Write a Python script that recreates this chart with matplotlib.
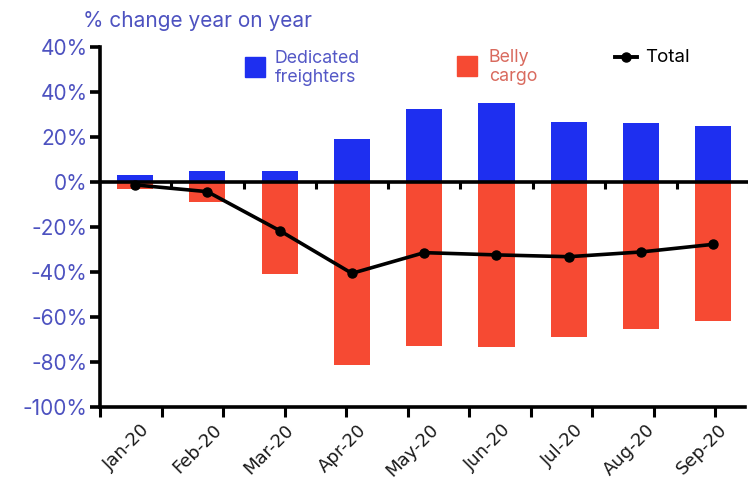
import numpy as np
import matplotlib
matplotlib.use("Agg")
import matplotlib.pyplot as plt
from matplotlib.patches import Rectangle
from matplotlib.lines import Line2D
from matplotlib import transforms

# Monthly year-on-year change in air cargo capacity (%)
months = ["Jan-20", "Feb-20", "Mar-20", "Apr-20", "May-20", "Jun-20", "Jul-20", "Aug-20", "Sep-20"]
dedicated_freighters = [3.1, 4.9, 4.9, 19.3, 32.4, 35.3, 26.8, 26.4, 24.7]
belly_cargo = [-3.2, -9.0, -40.8, -81.3, -72.7, -73.2, -68.7, -65.5, -61.8]
total = [-1.3, -4.3, -21.6, -40.6, -31.4, -32.4, -33.2, -31.1, -27.7]

y_tick_values = [-100, -80, -60, -40, -20, 0, 20, 40, 60]
y_tick_labels = ["-100%", "-80%", "-60%", "-40%", "-20%", "0%", "20%", "40%", "40%"]

BLUE = "#1e2ff0"
RED = "#f64a33"
AXIS_TEXT = "#4d52c0"

fig = plt.figure(figsize=(7.51, 4.79), dpi=100)
ax = fig.add_axes([0.1332, 0.1503, 0.8628, 0.7516])

x = np.arange(len(months))
ax.bar(x, dedicated_freighters, width=0.5, color=BLUE, zorder=2)
ax.bar(x, belly_cargo, width=0.5, color=RED, zorder=2)
ax.plot(x, total, color="black", lw=2.6, marker="o", markersize=6.5, zorder=4)

xmin, xmax = -0.485, 8.48
ax.set_xlim(xmin, xmax)
ax.set_ylim(-100, 60)

# axis frame: left spine and bottom spine only
for side in ("top", "right"):
    ax.spines[side].set_visible(False)
for side in ("left", "bottom"):
    ax.spines[side].set_linewidth(2.6)
    ax.spines[side].set_color("black")
ax.spines["bottom"].set_bounds(xmin, 8.44)

# y axis
ax.set_yticks(y_tick_values)
ax.set_yticklabels(y_tick_labels, fontsize=15, color=AXIS_TEXT, family=["Inter", "DejaVu Sans"])
ax.tick_params(axis="y", direction="out", length=7, width=2.6, pad=2)

# bottom axis tick marks
ax.set_xticks(np.linspace(xmin, 8.03, 11))
ax.set_xticklabels([])
ax.tick_params(axis="x", direction="out", length=7, width=2.2)

# month labels
label_tf = transforms.blended_transform_factory(ax.transData, ax.transAxes) + \
    transforms.ScaledTranslation(0, -14 / 100, fig.dpi_scale_trans)
for xi, m in zip(x, months):
    ax.text(xi + 0.07, 0, m, transform=label_tf, rotation=45, ha="right", va="top",
            rotation_mode="anchor", fontsize=13, color="#1a1a1a",
            family=["DejaVu Sans"])

# zero line with category separators
ax.axhline(0, color="black", lw=2.6, zorder=3)
for xs in np.arange(0.5, len(months), 1.0):
    ax.plot([xs, xs], [0, -3.2], color="black", lw=2.2, zorder=3, solid_capstyle="butt")

# title above the axis
fig.text(83 / 751, 1 - 21 / 479, "% change year on year", fontsize=15, color=AXIS_TEXT,
         family=["Inter", "DejaVu Sans"], ha="left", va="center")

# legend
W, H = 751, 479
fig.patches.append(Rectangle((245 / W, 1 - 77 / H), 20 / W, 20 / H, color=BLUE,
                             transform=fig.transFigure, figure=fig))
fig.text(275 / W, 1 - 68 / H, "Dedicated\nfreighters", fontsize=12.8, color="#5357c6",
         family=["Inter", "DejaVu Sans"], ha="left", va="center", linespacing=1.2)
fig.patches.append(Rectangle((457 / W, 1 - 76 / H), 20 / W, 20 / H, color=RED,
                             transform=fig.transFigure, figure=fig))
fig.text(489 / W, 1 - 67 / H, "Belly\ncargo", fontsize=12.8, color="#d96a5e",
         family=["Inter", "DejaVu Sans"], ha="left", va="center", linespacing=1.2)
fig.lines.append(Line2D([615 / W, 637 / W], [1 - 57 / H, 1 - 57 / H], color="black", lw=2.8,
                        transform=fig.transFigure, figure=fig))
fig.lines.append(Line2D([626 / W], [1 - 57 / H], color="black", marker="o", markersize=6.5,
                        transform=fig.transFigure, figure=fig))
fig.text(645 / W, 1 - 57 / H, "Total", fontsize=13.5, color="black",
         family=["Inter", "DejaVu Sans"], ha="left", va="center")

fig.savefig("out.png", dpi=100)
